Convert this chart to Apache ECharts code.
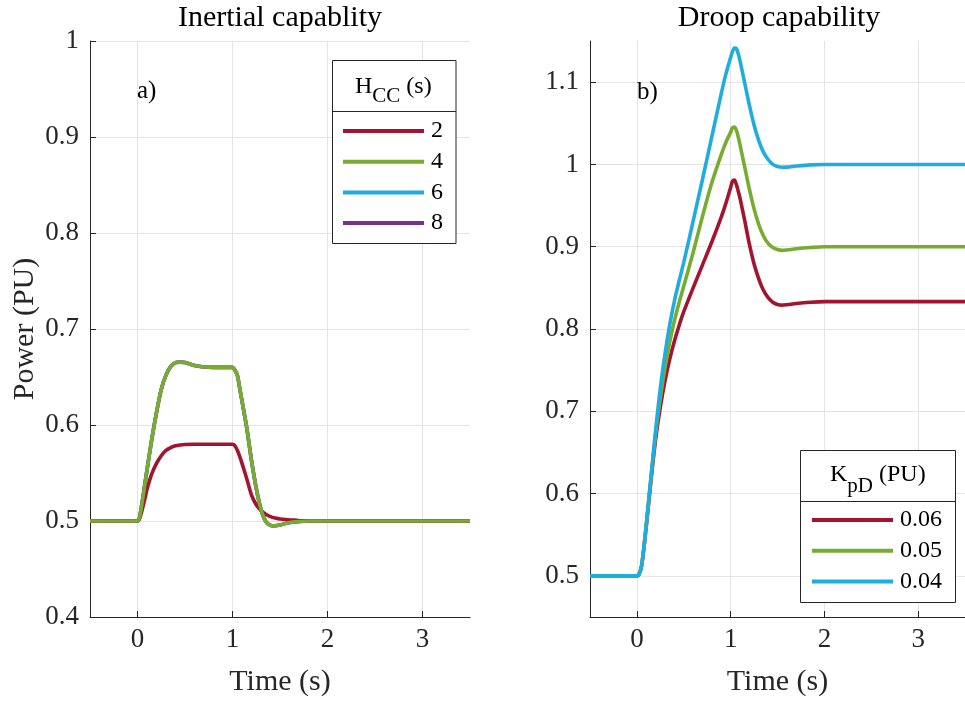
<!DOCTYPE html>
<html>
<head>
<meta charset="utf-8">
<title>Inertial and droop capability</title>
<script src="https://cdn.jsdelivr.net/npm/echarts@6/dist/echarts.min.js"></script>
<style>
  html, body { margin: 0; padding: 0; background: #ffffff; }
  #chart { width: 965px; height: 702px; }
</style>
</head>
<body>
<div id="chart"></div>
<script>
// ---- Panel a): inertial response for several H_CC values (s) ----
const inertiaTime = [-0.5, 0, 0.02, 0.05, 0.08, 0.1, 0.15, 0.2, 0.25, 0.3, 0.35, 0.4, 0.45, 0.5, 0.6, 0.7, 0.8, 0.9, 1.0,
  1.02, 1.05, 1.08, 1.1, 1.15, 1.2, 1.25, 1.3, 1.35, 1.4, 1.45, 1.5, 1.6, 1.7, 1.8, 2.0, 3.5];
const hcc2 = [0.5, 0.5, 0.502, 0.512, 0.524, 0.533, 0.549, 0.560, 0.568, 0.5735, 0.5765, 0.5783, 0.5792, 0.5797, 0.58, 0.58, 0.58, 0.58, 0.58,
  0.579, 0.574, 0.566, 0.560, 0.544, 0.527, 0.517, 0.511, 0.507, 0.5045, 0.503, 0.502, 0.5012, 0.5006, 0.5002, 0.5, 0.5];
const hcc4 = [0.5, 0.5, 0.503, 0.520, 0.540, 0.553, 0.585, 0.613, 0.637, 0.652, 0.661, 0.665, 0.6655, 0.665, 0.662, 0.6605, 0.66, 0.66, 0.66,
  0.658, 0.652, 0.636, 0.625, 0.597, 0.563, 0.534, 0.512, 0.4995, 0.4955, 0.495, 0.4958, 0.4985, 0.4995, 0.5, 0.5, 0.5];
const hcc6 = [0.5, 0.5, 0.503, 0.520, 0.540, 0.553, 0.585, 0.613, 0.637, 0.652, 0.661, 0.665, 0.6655, 0.665, 0.662, 0.6605, 0.66, 0.66, 0.66,
  0.658, 0.652, 0.636, 0.625, 0.597, 0.563, 0.534, 0.512, 0.4995, 0.4955, 0.495, 0.4958, 0.4985, 0.4995, 0.5, 0.5, 0.5];
const hcc8 = [0.5, 0.5, 0.503, 0.520, 0.540, 0.553, 0.585, 0.613, 0.637, 0.652, 0.661, 0.665, 0.6655, 0.665, 0.662, 0.6605, 0.66, 0.66, 0.66,
  0.658, 0.652, 0.636, 0.625, 0.597, 0.563, 0.534, 0.512, 0.4995, 0.4955, 0.495, 0.4958, 0.4985, 0.4995, 0.5, 0.5, 0.5];

// ---- Panel b): droop response for several K_pD values (PU) ----
const droopTime = [-0.5, 0, 0.02, 0.05, 0.08, 0.1, 0.15, 0.2, 0.25, 0.3, 0.35, 0.4, 0.45, 0.5, 0.6, 0.7, 0.8, 0.9, 0.95, 1.0,
  1.02, 1.04, 1.06, 1.08, 1.1, 1.15, 1.2, 1.25, 1.3, 1.35, 1.4, 1.45, 1.5, 1.55, 1.6, 1.7, 1.85, 2.0, 3.5];
const kpd006 = [0.5, 0.5, 0.501, 0.512, 0.539, 0.560, 0.615, 0.666, 0.705, 0.737, 0.763, 0.785, 0.804, 0.821, 0.850, 0.878, 0.906, 0.936, 0.953, 0.972,
  0.9795, 0.981, 0.976, 0.968, 0.959, 0.932, 0.903, 0.879, 0.861, 0.847, 0.838, 0.8325, 0.8298, 0.829, 0.8295, 0.831, 0.8325, 0.8333, 0.8333];
const kpd005 = [0.5, 0.5, 0.501, 0.512, 0.540, 0.561, 0.618, 0.672, 0.716, 0.753, 0.784, 0.810, 0.832, 0.852, 0.893, 0.937, 0.978, 1.012, 1.027, 1.039,
  1.0445, 1.0455, 1.042, 1.034, 1.024, 0.997, 0.970, 0.946, 0.927, 0.913, 0.904, 0.899, 0.8965, 0.8955, 0.896, 0.8975, 0.899, 0.9, 0.9];
const kpd004 = [0.5, 0.5, 0.501, 0.512, 0.540, 0.562, 0.620, 0.677, 0.728, 0.770, 0.805, 0.834, 0.858, 0.881, 0.931, 0.982, 1.034, 1.086, 1.110, 1.130,
  1.137, 1.1415, 1.141, 1.135, 1.126, 1.099, 1.072, 1.048, 1.029, 1.015, 1.006, 1.0, 0.9975, 0.9966, 0.9967, 0.998, 0.9995, 1.0, 1.0];

// ---- Tick positions ----
const timeTicks = [0, 1, 2, 3];
const inertiaTicks = [0.4, 0.5, 0.6, 0.7, 0.8, 0.9, 1];
const droopTicks = [0.5, 0.6, 0.7, 0.8, 0.9, 1, 1.1];

const FONT = '"Liberation Serif", "Times New Roman", Times, serif';
const AXIS_COLOR = '#262626';
const GRID_COLOR = '#e4e4e4';
const COLORS = { red: '#A2142F', green: '#77AC30', blue: '#21ACDF', purple: '#7E2F8E' };

const pairs = (t, v) => t.map((x, i) => [x, v[i]]);

function timeAxis(gridIndex) {
  return {
    type: 'value', gridIndex, min: -0.5, max: 3.5,
    name: 'Time (s)', nameLocation: 'middle', nameGap: 50,
    nameTextStyle: { fontFamily: FONT, fontSize: 30, color: AXIS_COLOR },
    axisLine: { show: true, onZero: false, lineStyle: { color: AXIS_COLOR, width: 1 } },
    axisTick: { show: true, inside: true, length: 6, customValues: timeTicks, lineStyle: { color: AXIS_COLOR } },
    axisLabel: { customValues: timeTicks, fontFamily: FONT, fontSize: 27, color: AXIS_COLOR, margin: 9 },
    splitLine: { show: true, lineStyle: { color: GRID_COLOR, width: 1 } }
  };
}

function powerAxis(gridIndex, min, max, ticks, withName) {
  const ax = {
    type: 'value', gridIndex, min, max,
    axisLine: { show: true, onZero: false, lineStyle: { color: AXIS_COLOR, width: 1 } },
    axisTick: { show: true, inside: true, length: 6, customValues: ticks, lineStyle: { color: AXIS_COLOR } },
    axisLabel: { customValues: ticks, fontFamily: FONT, fontSize: 27, color: AXIS_COLOR, margin: 11 },
    splitLine: { show: true, lineStyle: { color: GRID_COLOR, width: 1 } }
  };
  if (withName) {
    Object.assign(ax, {
      name: 'Power (PU)', nameLocation: 'middle', nameGap: 50,
      nameTextStyle: { fontFamily: FONT, fontSize: 30, color: AXIS_COLOR }
    });
  }
  return ax;
}

function curve(name, x, y, color, xi, z) {
  return {
    name, type: 'line', xAxisIndex: xi, yAxisIndex: xi, z,
    data: pairs(x, y), showSymbol: false, symbol: 'none',
    smooth: 0.3,
    lineStyle: { color, width: 3.6 }, itemStyle: { color },
    emphasis: { disabled: true }
  };
}

function legendBlock(left, top, names) {
  return {
    orient: 'vertical', left, top, padding: 0,
    itemWidth: 81, itemHeight: 4, itemGap: 6.7, icon: 'rect',
    selectedMode: false, z: 20, data: names,
    textStyle: { fontFamily: FONT, fontSize: 24, lineHeight: 24, color: '#000', padding: [0, 0, 0, 2] }
  };
}

const text = (str, x, y, size, align) => ({
  type: 'text', x, y, z: 15,
  style: { text: str, font: size + 'px ' + FONT, fill: '#000', align: align || 'left', verticalAlign: 'middle' }
});

const chart = echarts.init(document.getElementById('chart'), null, { renderer: 'canvas' });

chart.setOption({
  animation: false,
  backgroundColor: '#ffffff',
  grid: [
    { left: 90, top: 41, width: 380, height: 581 },
    { left: 590, top: 41, width: 380, height: 581 }
  ],
  xAxis: [timeAxis(0), timeAxis(1)],
  yAxis: [
    powerAxis(0, 0.4, 1, inertiaTicks, true),
    powerAxis(1, 0.45, 1.15, droopTicks, false)
  ],
  legend: [
    legendBlock(343, 119, ['2', '4', '6', '8']),
    legendBlock(812, 508, ['0.06', '0.05', '0.04'])
  ],
  series: [
    curve('6', inertiaTime, hcc6, COLORS.blue, 0, 2),
    curve('8', inertiaTime, hcc8, COLORS.purple, 0, 3),
    curve('2', inertiaTime, hcc2, COLORS.red, 0, 4),
    curve('4', inertiaTime, hcc4, COLORS.green, 0, 5),
    curve('0.06', droopTime, kpd006, COLORS.red, 1, 2),
    curve('0.05', droopTime, kpd005, COLORS.green, 1, 3),
    curve('0.04', droopTime, kpd004, COLORS.blue, 1, 4)
  ],
  graphic: [
    // panel titles
    text('Inertial capablity', 280, 18, 30, 'center'),
    text('Droop capability', 779, 18, 30, 'center'),
    // panel tags
    text('a)', 137, 91, 25),
    text('b)', 637, 92, 25),
    // legend frame, panel a
    { type: 'rect', z: 10, shape: { x: 332.5, y: 60.5, width: 123.5, height: 183 },
      style: { fill: '#fff', stroke: AXIS_COLOR, lineWidth: 1 } },
    { type: 'line', z: 11, shape: { x1: 332.5, y1: 111.5, x2: 456, y2: 111.5 },
      style: { stroke: AXIS_COLOR, lineWidth: 1 } },
    text('H', 355, 86.5, 24),
    text('CC', 372.3, 96.5, 21),
    text(' (s)', 400.3, 86.5, 24),
    // legend frame, panel b
    { type: 'rect', z: 10, shape: { x: 800.5, y: 450.5, width: 155, height: 152 },
      style: { fill: '#fff', stroke: AXIS_COLOR, lineWidth: 1 } },
    { type: 'line', z: 11, shape: { x1: 800.5, y1: 501.5, x2: 955.5, y2: 501.5 },
      style: { stroke: AXIS_COLOR, lineWidth: 1 } },
    text('K', 830, 475, 24),
    text('pD', 847.3, 486, 21),
    text(' (PU)', 873, 475, 24)
  ]
});
</script>
</body>
</html>
